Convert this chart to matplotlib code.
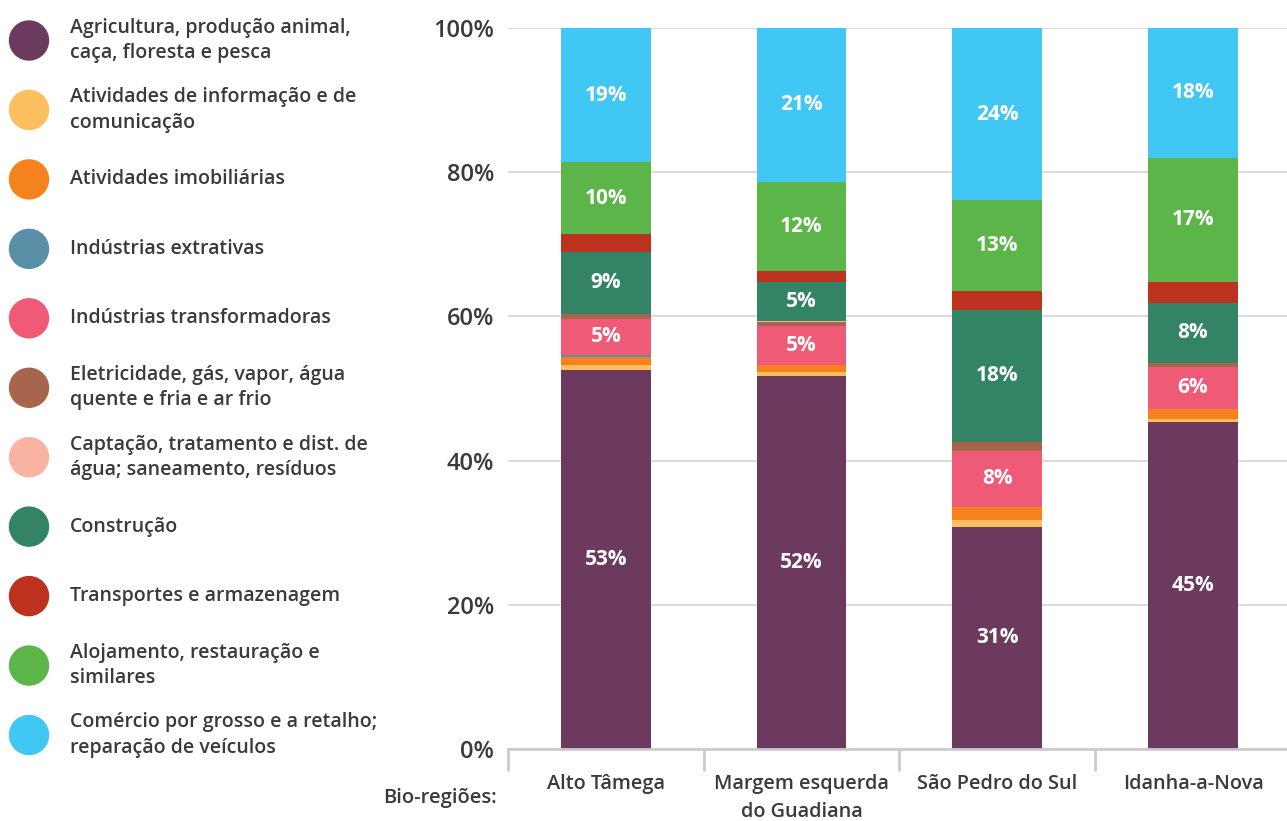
import matplotlib.pyplot as plt
import numpy as np
from matplotlib.patches import Circle

plt.rcParams["font.family"] = ["Open Sans", "DejaVu Sans"]
plt.rcParams["font.weight"] = "semibold"

regions = ["Alto Tâmega", "Margem esquerda\ndo Guadiana", "São Pedro do Sul", "Idanha-a-Nova"]

sectors = [
    "Agricultura, produção animal,\ncaça, floresta e pesca",
    "Atividades de informação e de\ncomunicação",
    "Atividades imobiliárias",
    "Indústrias extrativas",
    "Indústrias transformadoras",
    "Eletricidade, gás, vapor, água\nquente e fria e ar frio",
    "Captação, tratamento e dist. de\nágua; saneamento, resíduos",
    "Construção",
    "Transportes e armazenagem",
    "Alojamento, restauração e\nsimilares",
    "Comércio por grosso e a retalho;\nreparação de veículos",
]

colors = ["#6b3a5e", "#fdbe5e", "#f5821f", "#5a8fa8", "#ef5b76", "#a8654e",
          "#f9b3a3", "#338465", "#bc321e", "#5bb548", "#40c7f4"]

# share (%) per sector, one value per region
agricultura = [52.6, 51.7, 30.8, 45.4]
informacao = [0.6, 0.55, 1.0, 0.4]
imobiliarias = [1.1, 1.0, 1.8, 1.4]
extrativas = [0.4, 0.0, 0.0, 0.0]
transformadoras = [5.0, 5.4, 7.8, 5.8]
eletricidade = [0.7, 0.55, 1.2, 0.6]
captacao = [0.0, 0.2, 0.0, 0.0]
construcao = [8.6, 5.4, 18.3, 8.3]
transportes = [2.4, 1.5, 2.6, 2.9]
alojamento = [10.0, 12.4, 12.6, 17.2]
comercio = [18.6, 21.3, 23.9, 18.0]

series = [agricultura, informacao, imobiliarias, extrativas, transformadoras,
          eletricidade, captacao, construcao, transportes, alojamento, comercio]

W, H = 1287, 821
txt = "#3a3a3a"
fig = plt.figure(figsize=(W / 100, H / 100), dpi=100)

# main chart
ax = fig.add_axes([508 / W, (H - 749) / H, (W - 508) / W, (749 - 28) / H])
x = np.arange(len(regions))
bottom = np.zeros(len(regions))
for vals, col in zip(series, colors):
    vals = np.array(vals)
    ax.bar(x, vals, width=0.458, bottom=bottom, color=col, zorder=3)
    for xi, v, b in zip(x, vals, bottom):
        if v >= 4:
            ax.text(xi, b + v / 2, f"{v:.0f}%", ha="center", va="center",
                    color="white", fontsize=15, fontweight="bold", zorder=4)
    bottom += vals

ax.set_yticks([0, 20, 40, 60, 80, 100])
ax.set_yticklabels([f"{t}%" for t in [0, 20, 40, 60, 80, 100]])
ax.yaxis.grid(True, color="#dcdcdc", linewidth=1.5, zorder=0)
ax.tick_params(axis="y", length=0, pad=10, labelsize=17, labelcolor=txt)
ax.set_xticks(x)
ax.set_xticklabels(regions, linespacing=1.5)
ax.set_xticks([-0.5, 0.5, 1.5, 2.5, 3.5], minor=True)
ax.tick_params(axis="x", which="major", length=0, pad=18, labelsize=14.3,
               labelcolor=txt)
ax.tick_params(axis="x", which="minor", length=16, width=2, color="#cccccc")
ax.set_xlim(-0.5, 3.48)
ax.set_ylim(0, 100)
for s in ["left", "right", "top"]:
    ax.spines[s].set_visible(False)
ax.spines["bottom"].set_color("#cccccc")
ax.spines["bottom"].set_linewidth(2)
ax.spines["bottom"].set_zorder(5)

fig.text(497 / W, 1 - 798 / H, "Bio-regiões:", ha="right", va="center",
         fontsize=14.5, color=txt)

# legend drawn in pixel coordinates
lg = fig.add_axes([0, 0, 1, 1], zorder=-1)
lg.set_xlim(0, W)
lg.set_ylim(H, 0)
lg.axis("off")
for i, (name, col) in enumerate(zip(sectors, colors)):
    yc = 40.5 + i * 69.45
    lg.add_patch(Circle((29, yc), 19.5, color=col))
    lg.text(70, yc, name, ha="left", va="center", fontsize=14,
            color=txt, linespacing=1.35)

fig.savefig("out.png", dpi=100)
